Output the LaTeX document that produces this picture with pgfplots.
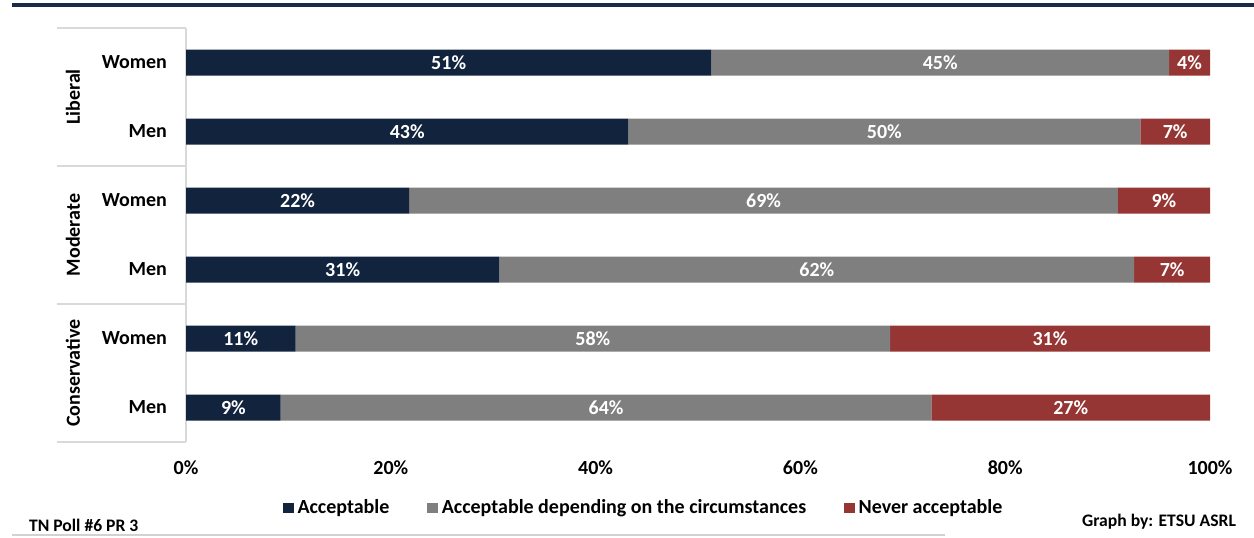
\documentclass[border=0pt]{standalone}
\usepackage{pgfplots}
\usepackage{pgfplotstable}
\pgfplotsset{compat=1.18}
\usepackage{fontspec}
\setmainfont{Carlito}
\definecolor{navy}{HTML}{12233E}
\definecolor{midgray}{HTML}{7F7F7F}
\definecolor{darkred}{HTML}{953634}
\definecolor{topline}{HTML}{1B2A47}
\definecolor{boxline}{HTML}{D9D9D9}
% values (bar lengths) and their printed labels
\pgfplotstableread{
y A B C LA LB LC
1 9.25 63.55 27.2 9 64 27
2 10.7 58.05 31.25 11 58 31
3 30.6 62.0 7.4 31 62 7
4 21.8 69.2 9.0 22 69 9
5 43.2 50.0 6.8 43 50 7
6 51.3 44.7 4.0 51 45 4
}\data
\newcommand{\lblfont}{\bfseries\fontsize{10}{12}\selectfont}
\begin{document}
\begin{tikzpicture}
% frame in pixel coordinates (y down)
\begin{scope}[x=0.5pt,y=-0.5pt]
\path (0,0) rectangle (1254,537);
\fill[topline] (12,3) rectangle (1254,7);
\draw[boxline, line width=1pt] (57,28) -- (186,28);
\draw[boxline, line width=1pt] (57,166) -- (186,166);
\draw[boxline, line width=1pt] (57,304) -- (186,304);
\draw[boxline, line width=1pt] (57,442) -- (186,442);
\draw[boxline, line width=1pt] (186,28) -- (186,442);
\node[rotate=90, font=\lblfont] at (73,97) {Liberal};
\node[rotate=90, font=\lblfont] at (73,235) {Moderate};
\node[rotate=90, font=\lblfont] at (73,373) {Conservative};
\node[anchor=west, font=\bfseries\fontsize{8.8}{10}\selectfont] at (22,525) {TN Poll \#6 PR 3};
\node[anchor=east, font=\bfseries\fontsize{8.8}{10}\selectfont] at (1243,522) {Graph by: ETSU ASRL};
\draw[gray!35, line width=0.6pt] (12,535) -- (945,535);
\end{scope}
\begin{axis}[
  at={(93pt,-221pt)}, anchor=south west,
  scale only axis, width=512pt, height=207pt,
  xbar stacked, bar width=13pt,
  xmin=0, xmax=100, ymin=0.5, ymax=6.5,
  axis line style={draw=none},
  tick style={draw=none},
  xtick={0,20,...,100},
  xticklabel={\pgfmathprintnumber{\tick}\%},
  ytick={1,...,6},
  yticklabels={Men,Women,Men,Women,Men,Women},
  /pgf/number format/assume math mode=true,
  ticklabel style={font=\lblfont},
  xticklabel style={yshift=-6pt},
  yticklabel style={xshift=-6pt},
  point meta=explicit,
  nodes near coords={\pgfmathprintnumber[fixed,precision=0]{\pgfplotspointmeta}\%},
  every node near coord/.append style={anchor=center, text=white, font=\lblfont},
  legend style={at={(0.448,-0.159)}, anchor=center, draw=none, fill=none,
    legend columns=3, font=\bfseries\fontsize{10}{12}\selectfont,
    /tikz/every even column/.append style={column sep=17pt}},
  legend cell align=left,
  legend image code/.code={\fill[#1] (0pt,-2.6pt) rectangle (5.2pt,2.6pt);},
]
\addplot[fill=navy, draw=none] table[x=A, y=y, meta=LA] {\data};
\addplot[fill=midgray, draw=none] table[x=B, y=y, meta=LB] {\data};
\addplot[fill=darkred, draw=none] table[x=C, y=y, meta=LC] {\data};
\legend{Acceptable, Acceptable depending on the circumstances, Never acceptable}
\end{axis}
\end{tikzpicture}
\end{document}
